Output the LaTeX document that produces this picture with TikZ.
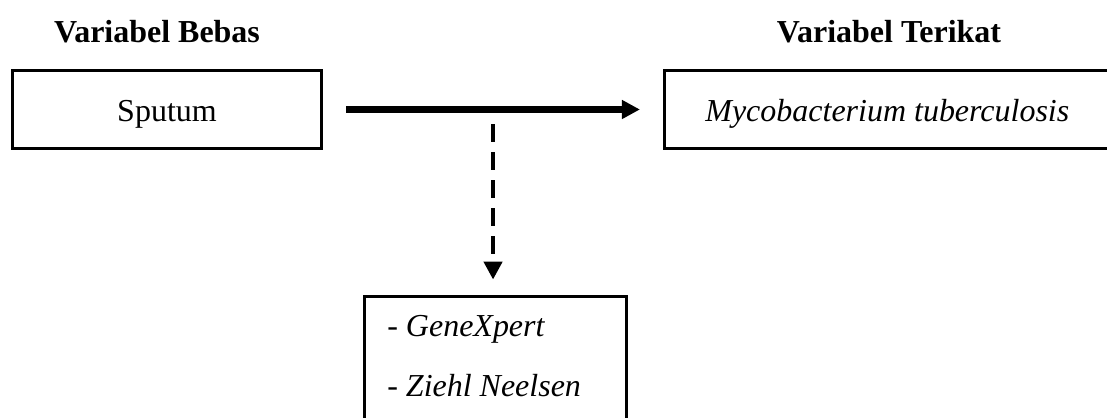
\documentclass[tikz,border=0pt]{standalone}
\usepackage{fontspec}
\setmainfont{Liberation Serif}
\usepackage{tikz}
\usetikzlibrary{arrows.meta,positioning,calc}

\begin{document}
\begin{tikzpicture}[
			> = {Triangle[length=0.54cm,width=0.54cm]},
			font = \fontsize{27.3pt}{33pt}\selectfont,
			line width = 0.09cm]

			\tikzstyle{var box}=[
			draw = black,
			line width = 0.1cm,
			minimum height = 2.34cm,
			text height = 0.75cm,
			text depth = 0cm]
			\tikzstyle{head}=[anchor=base, font=\fontsize{27.3pt}{33pt}\selectfont\bfseries]
			\tikzstyle{item}=[anchor=base west, inner sep=0pt]

			\clip (0,0) rectangle (33.21,12.54);

			\node[var box, minimum width=9.27cm] (sputum) at (5.01,9.255) {Sputum};
			\node[var box, minimum width=13.365cm] (myco) at (26.62,9.255) {\textit{Mycobacterium tuberculosis}};
			\node[head] (bebas) at (4.71,11.25) {Variabel Bebas};
			\node[head] (terikat) at (26.67,11.25) {Variabel Terikat};

			\node[var box, minimum width=7.86cm, minimum height=4.065cm] (metode) at (14.865,1.62) {};
			\node[item] (gene) at ($(metode.north west)+(0.69,-1.26)$) {- \textit{GeneXpert}};
			\node[item] (ziehl) at ($(metode.north west)+(0.69,-3.06)$) {- \textit{Ziehl Neelsen}};

			\coordinate (mid) at ($(sputum.east)!0.5!(myco.west)$);

			\draw[->, line width=0.2cm, shorten <=0.69cm, shorten >=0.69cm] (sputum) -- (myco);
			\draw[->, line width=0.13cm, dash pattern=on 0.54cm off 0.3cm,
			shorten <=0.45cm, shorten >=0.45cm] (mid) -- (mid |- metode.north);
		\end{tikzpicture}
\end{document}
